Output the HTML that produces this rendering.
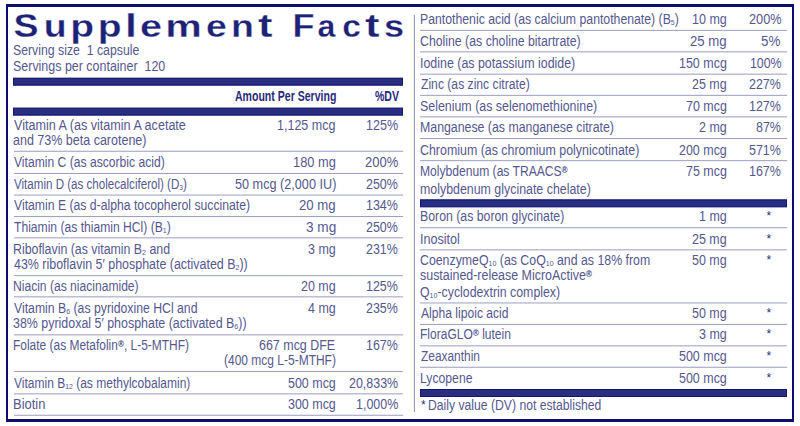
<!DOCTYPE html>
<html><head><meta charset="utf-8"><title>Supplement Facts</title>
<style>
html,body{margin:0;padding:0;background:#fff;}
body{width:800px;height:426px;position:relative;overflow:hidden;font-family:"Liberation Sans",sans-serif;}
.box{position:absolute;left:6px;top:4px;width:788px;height:418px;box-sizing:border-box;border:solid #0c0d6d;border-width:3px 2px 3px 2px;}

.t{position:absolute;white-space:nowrap;font-size:14px;line-height:16px;color:#55588f;transform-origin:0 0;}
.bo{font-weight:bold;color:#262b7a;}
.s{font-size:8px;position:relative;top:1px;}
.r{font-size:9.5px;font-weight:bold;position:relative;top:-3px;color:#3a3d86;}

.st{font-size:12px;color:#2a2e7c;}
.l{position:absolute;}
.b{position:absolute;background:#2a2e80;box-shadow:inset 0 0 0 1px #12166e;}
.ti{position:absolute;left:0;top:0;font-family:"Liberation Sans",sans-serif;font-weight:bold;font-size:33px;fill:#1d2277;stroke:#fff;stroke-width:0.3px;}
</style></head><body>
<div class="box"></div>
<svg class="ti" width="420" height="50" viewBox="0 0 420 50"><text transform="translate(13.38,37.1) scale(1.136,1.030)">S</text><text transform="translate(43.75,37.1) scale(1.136,0.950)">u</text><text transform="translate(70.27,37.1) scale(1.182,0.950)">p</text><text transform="translate(97.77,37.1) scale(1.182,0.950)">p</text><text transform="translate(125.00,37.1) scale(1.299,0.980)">l</text><text transform="translate(139.92,37.1) scale(1.199,0.950)">e</text><text transform="translate(165.22,37.1) scale(1.248,0.950)">m</text><text transform="translate(206.00,37.1) scale(1.136,0.950)">e</text><text transform="translate(230.88,37.1) scale(1.136,0.950)">n</text><text transform="translate(258.06,37.1) scale(1.320,0.980)">t</text><text transform="translate(292.48,37.1) scale(1.091,1.030)">F</text><text transform="translate(317.54,37.1) scale(0.972,0.950)">a</text><text transform="translate(342.15,37.1) scale(1.020,0.950)">c</text><text transform="translate(365.06,37.1) scale(1.320,0.980)">t</text><text transform="translate(384.05,37.1) scale(1.096,0.950)">s</text></svg>
<span class="t" style="left:12.92px;top:42px;transform:scaleX(0.8773)">Serving size&nbsp; 1 capsule</span>
<span class="t" style="left:12.91px;top:58px;transform:scaleX(0.8894)">Servings per container&nbsp; 120</span>
<span class="t bo" style="left:234.50px;top:88px;transform:scaleX(0.7530)">Amount Per Serving</span>
<span class="t bo" style="left:374.80px;top:88px;transform:scaleX(0.7531)">%DV</span>
<span class="t" style="left:13.80px;top:117px;transform:scaleX(0.8990)">Vitamin A (as vitamin A acetate</span>
<span class="t" style="left:12.91px;top:132px;transform:scaleX(0.8932)">and 73% beta carotene)</span>
<span class="t" style="left:276.91px;top:117px;transform:scaleX(0.8937)">1,125 mcg</span>
<span class="t" style="left:366.10px;top:117px;transform:scaleX(0.8971)">125%</span>
<span class="t" style="left:13.80px;top:154px;transform:scaleX(0.8665)">Vitamin C (as ascorbic acid)</span>
<span class="t" style="left:292.88px;top:154px;transform:scaleX(0.9156)">180 mg</span>
<span class="t" style="left:365.07px;top:154px;transform:scaleX(0.9265)">200%</span>
<span class="t" style="left:13.80px;top:176px;transform:scaleX(0.8279)">Vitamin D (as cholecalciferol) (D<span class="s">3</span>)</span>
<span class="t" style="left:234.60px;top:176px;transform:scaleX(0.9045)">50 mcg (2,000 IU)</span>
<span class="t" style="left:366.35px;top:176px;transform:scaleX(0.8900)">250%</span>
<span class="t" style="left:13.80px;top:197px;transform:scaleX(0.8726)">Vitamin E (as d-alpha tocopherol succinate)</span>
<span class="t" style="left:299.16px;top:197px;transform:scaleX(0.9432)">20 mg</span>
<span class="t" style="left:366.35px;top:197px;transform:scaleX(0.8900)">134%</span>
<span class="t" style="left:13.80px;top:219px;transform:scaleX(0.8656)">Thiamin (as thiamin HCl) (B<span class="s">1</span>)</span>
<span class="t" style="left:305.83px;top:219px;transform:scaleX(0.9724)">3 mg</span>
<span class="t" style="left:366.35px;top:219px;transform:scaleX(0.8900)">250%</span>
<span class="t" style="left:12.92px;top:241px;transform:scaleX(0.8824)">Riboflavin (as vitamin B<span class="s">2</span> and</span>
<span class="t" style="left:13.80px;top:256px;transform:scaleX(0.8882)">43% riboflavin 5&prime; phosphate (activated B<span class="s">2</span>))</span>
<span class="t" style="left:308.30px;top:241px;transform:scaleX(0.8900)">3 mg</span>
<span class="t" style="left:366.35px;top:241px;transform:scaleX(0.8900)">231%</span>
<span class="t" style="left:12.94px;top:278px;transform:scaleX(0.8632)">Niacin (as niacinamide)</span>
<span class="t" style="left:301.18px;top:278px;transform:scaleX(0.8900)">20 mg</span>
<span class="t" style="left:366.35px;top:278px;transform:scaleX(0.8900)">125%</span>
<span class="t" style="left:13.80px;top:300px;transform:scaleX(0.8751)">Vitamin B<span class="s">6</span> (as pyridoxine HCl and</span>
<span class="t" style="left:12.91px;top:315px;transform:scaleX(0.8877)">38% pyridoxal 5&prime; phosphate (activated B<span class="s">6</span>))</span>
<span class="t" style="left:308.30px;top:300px;transform:scaleX(0.8900)">4 mg</span>
<span class="t" style="left:366.35px;top:300px;transform:scaleX(0.8900)">235%</span>
<span class="t" style="left:12.95px;top:337px;transform:scaleX(0.8534)">Folate (as Metafolin<span class="r">&reg;</span>, L-5-MTHF)</span>
<span class="t" style="left:259.35px;top:337px;transform:scaleX(0.8900)">667 mcg DFE</span>
<span class="t" style="left:223.64px;top:352px;transform:scaleX(0.8566)">(400 mcg L-5-MTHF)</span>
<span class="t" style="left:366.35px;top:337px;transform:scaleX(0.8900)">167%</span>
<span class="t" style="left:13.80px;top:375px;transform:scaleX(0.8580)">Vitamin B<span class="s">12</span> (as methylcobalamin)</span>
<span class="t" style="left:287.83px;top:375px;transform:scaleX(0.8900)">500 mcg</span>
<span class="t" style="left:348.55px;top:375px;transform:scaleX(0.8900)">20,833%</span>
<span class="t" style="left:12.88px;top:396px;transform:scaleX(0.9242)">Biotin</span>
<span class="t" style="left:287.83px;top:396px;transform:scaleX(0.8900)">300 mcg</span>
<span class="t" style="left:355.67px;top:396px;transform:scaleX(0.8900)">1,000%</span>
<span class="t" style="left:420.12px;top:11px;transform:scaleX(0.8759)">Pantothenic acid (as calcium pantothenate) (B<span class="s">5</span>)</span>
<span class="t" style="left:692.01px;top:11px;transform:scaleX(0.8946)">10 mg</span>
<span class="t" style="left:748.69px;top:11px;transform:scaleX(0.9088)">200%</span>
<span class="t" style="left:420.12px;top:33px;transform:scaleX(0.8785)">Choline (as choline bitartrate)</span>
<span class="t" style="left:690.26px;top:33px;transform:scaleX(0.9405)">25 mg</span>
<span class="t" style="left:761.34px;top:33px;transform:scaleX(0.9579)">5%</span>
<span class="t" style="left:420.11px;top:55px;transform:scaleX(0.8867)">Iodine (as potassium iodide)</span>
<span class="t" style="left:678.81px;top:55px;transform:scaleX(0.8904)">150 mcg</span>
<span class="t" style="left:749.62px;top:55px;transform:scaleX(0.8824)">100%</span>
<span class="t" style="left:421.00px;top:76px;transform:scaleX(0.8677)">Zinc (as zinc citrate)</span>
<span class="t" style="left:692.18px;top:76px;transform:scaleX(0.8900)">25 mg</span>
<span class="t" style="left:749.35px;top:76px;transform:scaleX(0.8900)">227%</span>
<span class="t" style="left:420.11px;top:98px;transform:scaleX(0.8859)">Selenium (as selenomethionine)</span>
<span class="t" style="left:685.95px;top:98px;transform:scaleX(0.8900)">70 mcg</span>
<span class="t" style="left:749.35px;top:98px;transform:scaleX(0.8900)">127%</span>
<span class="t" style="left:420.12px;top:119px;transform:scaleX(0.8807)">Manganese (as manganese citrate)</span>
<span class="t" style="left:699.30px;top:119px;transform:scaleX(0.8900)">2 mg</span>
<span class="t" style="left:755.58px;top:119px;transform:scaleX(0.8900)">87%</span>
<span class="t" style="left:420.11px;top:142px;transform:scaleX(0.8862)">Chromium (as chromium polynicotinate)</span>
<span class="t" style="left:678.83px;top:142px;transform:scaleX(0.8900)">200 mcg</span>
<span class="t" style="left:749.35px;top:142px;transform:scaleX(0.8900)">571%</span>
<span class="t" style="left:420.14px;top:163px;transform:scaleX(0.8639)">Molybdenum (as TRAACS<span class="r">&reg;</span></span>
<span class="t" style="left:420.12px;top:181px;transform:scaleX(0.8848)">molybdenum glycinate chelate)</span>
<span class="t" style="left:685.95px;top:163px;transform:scaleX(0.8900)">75 mcg</span>
<span class="t" style="left:749.35px;top:163px;transform:scaleX(0.8900)">167%</span>
<span class="t" style="left:420.12px;top:208px;transform:scaleX(0.8784)">Boron (as boron glycinate)</span>
<span class="t" style="left:699.30px;top:208px;transform:scaleX(0.8900)">1 mg</span>
<span class="t" style="left:420.10px;top:231px;transform:scaleX(0.9000)">Inositol</span>
<span class="t" style="left:692.18px;top:231px;transform:scaleX(0.8900)">25 mg</span>
<span class="t" style="left:420.12px;top:252px;transform:scaleX(0.8808)">CoenzymeQ<span class="s">10</span> (as CoQ<span class="s">10</span> and as 18% from</span>
<span class="t" style="left:420.11px;top:267px;transform:scaleX(0.8880)">sustained-release MicroActive<span class="r">&reg;</span></span>
<span class="t" style="left:420.12px;top:284px;transform:scaleX(0.8809)">Q<span class="s">10</span>-cyclodextrin complex)</span>
<span class="t" style="left:692.18px;top:252px;transform:scaleX(0.8900)">50 mg</span>
<span class="t" style="left:421.00px;top:305px;transform:scaleX(0.8653)">Alpha lipoic acid</span>
<span class="t" style="left:692.18px;top:305px;transform:scaleX(0.8900)">50 mg</span>
<span class="t" style="left:420.14px;top:326px;transform:scaleX(0.8587)">FloraGLO<span class="r">&reg;</span> lutein</span>
<span class="t" style="left:699.30px;top:326px;transform:scaleX(0.8900)">3 mg</span>
<span class="t" style="left:421.00px;top:348px;transform:scaleX(0.8507)">Zeaxanthin</span>
<span class="t" style="left:678.83px;top:348px;transform:scaleX(0.8900)">500 mcg</span>
<span class="t" style="left:420.13px;top:370px;transform:scaleX(0.8712)">Lycopene</span>
<span class="t" style="left:678.83px;top:370px;transform:scaleX(0.8900)">500 mcg</span>
<span class="t" style="left:427.63px;top:397px;transform:scaleX(0.8702)">Daily value (DV) not established</span>
<span class="t st" style="left:766.5px;top:208px">*</span>
<span class="t st" style="left:766.5px;top:231px">*</span>
<span class="t st" style="left:766.5px;top:252px">*</span>
<span class="t st" style="left:766.5px;top:305px">*</span>
<span class="t st" style="left:766.5px;top:326px">*</span>
<span class="t st" style="left:766.5px;top:348px">*</span>
<span class="t st" style="left:766.5px;top:370px">*</span>
<span class="t st" style="left:421px;top:397px">*</span>
<div class="b" style="left:13px;top:0;width:390.2px;height:8.00px;transform:translateY(77.60px)"></div>
<div class="b" style="left:13px;top:0;width:390.2px;height:7.80px;transform:translateY(107.50px)"></div>
<div class="l" style="left:13.5px;top:0;width:389.7px;height:1.3px;background:#9b9dc1;transform:translateY(150.75px)"></div>
<div class="l" style="left:13.5px;top:0;width:389.7px;height:1.3px;background:#9b9dc1;transform:translateY(172.95px)"></div>
<div class="l" style="left:13.5px;top:0;width:389.7px;height:1.3px;background:#9b9dc1;transform:translateY(194.55px)"></div>
<div class="l" style="left:13.5px;top:0;width:389.7px;height:1.3px;background:#9b9dc1;transform:translateY(216.05px)"></div>
<div class="l" style="left:13.5px;top:0;width:389.7px;height:1.3px;background:#9b9dc1;transform:translateY(237.35px)"></div>
<div class="l" style="left:13.5px;top:0;width:389.7px;height:1.3px;background:#9b9dc1;transform:translateY(275.15px)"></div>
<div class="l" style="left:13.5px;top:0;width:389.7px;height:1.3px;background:#9b9dc1;transform:translateY(296.35px)"></div>
<div class="l" style="left:13.5px;top:0;width:389.7px;height:1.3px;background:#9b9dc1;transform:translateY(334.35px)"></div>
<div class="l" style="left:13.5px;top:0;width:389.7px;height:1.3px;background:#9b9dc1;transform:translateY(370.95px)"></div>
<div class="l" style="left:13.5px;top:0;width:389.7px;height:1.3px;background:#9b9dc1;transform:translateY(393.35px)"></div>
<div class="l" style="left:13.5px;top:0;width:389.7px;height:1.3px;background:#9b9dc1;transform:translateY(414.75px)"></div>
<div class="l" style="left:420px;top:0;width:366.5px;height:1.3px;background:#9b9dc1;transform:translateY(29.85px)"></div>
<div class="l" style="left:420px;top:0;width:366.5px;height:1.3px;background:#9b9dc1;transform:translateY(51.35px)"></div>
<div class="l" style="left:420px;top:0;width:366.5px;height:1.3px;background:#9b9dc1;transform:translateY(73.65px)"></div>
<div class="l" style="left:420px;top:0;width:366.5px;height:1.3px;background:#9b9dc1;transform:translateY(94.85px)"></div>
<div class="l" style="left:420px;top:0;width:366.5px;height:1.3px;background:#9b9dc1;transform:translateY(116.35px)"></div>
<div class="l" style="left:420px;top:0;width:366.5px;height:1.3px;background:#9b9dc1;transform:translateY(138.05px)"></div>
<div class="l" style="left:420px;top:0;width:366.5px;height:1.3px;background:#9b9dc1;transform:translateY(160.15px)"></div>
<div class="l" style="left:420px;top:0;width:366.5px;height:1.3px;background:#9b9dc1;transform:translateY(227.25px)"></div>
<div class="l" style="left:420px;top:0;width:366.5px;height:1.3px;background:#9b9dc1;transform:translateY(249.35px)"></div>
<div class="l" style="left:420px;top:0;width:366.5px;height:1.3px;background:#9b9dc1;transform:translateY(302.45px)"></div>
<div class="l" style="left:420px;top:0;width:366.5px;height:1.3px;background:#9b9dc1;transform:translateY(323.95px)"></div>
<div class="l" style="left:420px;top:0;width:366.5px;height:1.3px;background:#9b9dc1;transform:translateY(345.35px)"></div>
<div class="l" style="left:420px;top:0;width:366.5px;height:1.3px;background:#9b9dc1;transform:translateY(366.75px)"></div>
<div class="b" style="left:420px;top:0;width:366.5px;height:7.90px;transform:translateY(199.40px)"></div>
<div class="b" style="left:420px;top:0;width:366.5px;height:7.80px;transform:translateY(389.00px)"></div>
<div class="l" style="left:0;top:15px;width:1.2px;height:397px;background:#8e90b7;transform:translateX(413.9px)"></div>
</body></html>
